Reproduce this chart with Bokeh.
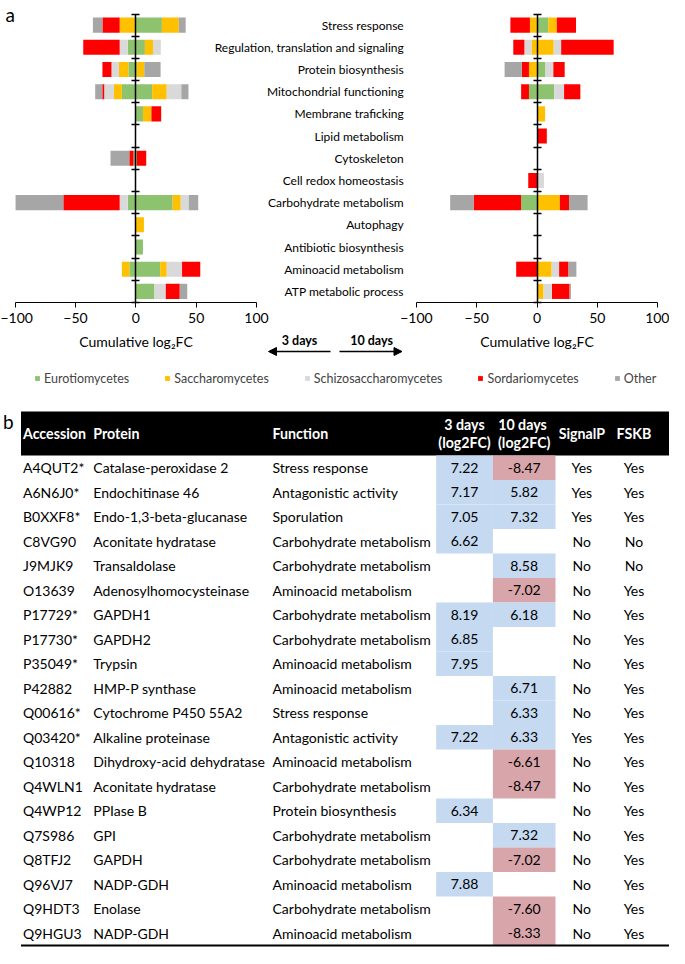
from bokeh.plotting import figure
from bokeh.models import (Range1d, LinearAxis, FixedTicker, ColumnDataSource, Legend,
                          LegendItem, Arrow, NormalHead)
from bokeh.core.properties import value
from bokeh.embed import file_html
from bokeh.resources import INLINE

FONT = "Lato"

# ---------------- data: panel a ----------------
categories = ["Stress response", "Regulation, translation and signaling", "Protein biosynthesis",
              "Mitochondrial functioning", "Membrane traficking", "Lipid metabolism", "Cytoskeleton",
              "Cell redox homeostasis", "Carbohydrate metabolism", "Autophagy",
              "Antibiotic biosynthesis", "Aminoacid metabolism", "ATP metabolic process"]
classes = ["Eurotiomycetes", "Saccharomycetes", "Schizosaccharomycetes", "Sordariomycetes", "Other"]
class_keys = ["euro", "sacch", "schizo", "sordario", "other"]
class_colors = ["#8DC26F", "#FFC000", "#D9D9D9", "#FF0000", "#A6A6A6"]

# 3 days, positive cumulative log2FC per class
up3_euro     = [21.6, 7.5, 0.8, 13.5, 5.9, 0, 0.8, 0, 30.5, 0, 5.9, 20.2, 15.4]
up3_sacch    = [14.0, 6.7, 6.2, 12.1, 7.0, 0, 0, 0, 6.7, 6.7, 0, 5.4, 0]
up3_schizo   = [0, 6.5, 0, 12.1, 0, 0, 0, 0, 6.7, 0, 0, 12.7, 9.4]
up3_sordario = [0, 0, 0, 0, 8.1, 0, 7.8, 0, 0, 0, 0, 15.1, 11.6]
up3_other    = [5.7, 0, 13.5, 5.9, 0, 0, 0, 0, 7.8, 0, 0, 0, 6.2]
# 3 days, negative cumulative log2FC per class
dn3_euro     = [0, -6.7, -6.2, -11.6, 0, 0, -1.9, 0, -6.7, 0, 0, -5.4, 0]
dn3_sacch    = [-13.4, 0, -7.8, -6.5, 0, 0, 0, 0, 0, 0, 0, -6.2, 0]
dn3_schizo   = [0, -6.7, -6.2, -8.1, 0, 0, 0, 0, -6.7, 0, 0, 0, 0]
dn3_sordario = [-14.3, -30.2, -7.5, -1.6, 0, 0, -3.5, 0, -46.7, 0, 0, 0, 0]
dn3_other    = [-7.9, 0, 0, -5.9, 0, 0, -15.6, 0, -39.6, 0, 0, 0, 0]
# 10 days, positive
up10_euro     = [9.4, 0, 7.0, 14.3, 0, 0, 0, 0, 0, 0, 0, 0, 0]
up10_sacch    = [7.0, 13.8, 0, 0, 6.7, 0, 0, 0, 18.9, 0, 0, 12.1, 5.4]
up10_schizo   = [0, 6.2, 6.5, 8.1, 0, 0, 0, 5.7, 0, 0, 0, 6.2, 7.0]
up10_sordario = [15.9, 43.5, 9.4, 13.5, 0, 8.1, 0, 0, 7.6, 0, 0, 7.8, 14.6]
up10_other    = [0, 0, 0, 0, 0, 0, 0, 0, 15.4, 0, 0, 6.5, 1.1]
# 10 days, negative
dn10_euro     = [0, 0, 0, -6.7, 0, 0, 0, 0, -13.2, 0, 0, 0, 0]
dn10_sacch    = [-5.9, -4.6, -6.7, 0, 0, 0, 0, 0, 0, 0, 0, 0, 0]
dn10_schizo   = [0, -5.9, 0, 0, 0, 0, 0, 0, 0, 0, 0, 0, 0]
dn10_sordario = [-16.2, -9.2, -5.9, -6.5, 0, 0, 0, -7.3, -39.4, 0, 0, -17.3, 0]
dn10_other    = [0, 0, -14.3, 0, 0, 0, 0, 0, -19.4, 0, 0, 0, 0]

x_ticks = [-100, -50, 0, 50, 100]

# ---------------- data: panel b ----------------
tab_header = ["Accession", "Protein", "Function", "3 days\n(log2FC)", "10  days\n(log2FC)", "SignalP", "FSKB"]
accession = ["A4QUT2*", "A6N6J0*", "B0XXF8*", "C8VG90", "J9MJK9", "O13639", "P17729*", "P17730*",
             "P35049*", "P42882", "Q00616*", "Q03420*", "Q10318", "Q4WLN1", "Q4WP12", "Q7S986",
             "Q8TFJ2", "Q96VJ7", "Q9HDT3", "Q9HGU3"]
protein = ["Catalase-peroxidase 2", "Endochitinase 46", "Endo-1,3-beta-glucanase", "Aconitate hydratase",
           "Transaldolase", "Adenosylhomocysteinase", "GAPDH1", "GAPDH2", "Trypsin", "HMP-P synthase",
           "Cytochrome P450 55A2", "Alkaline proteinase", "Dihydroxy-acid dehydratase",
           "Aconitate hydratase", "PPIase B", "GPI", "GAPDH", "NADP-GDH", "Enolase", "NADP-GDH"]
function = ["Stress response", "Antagonistic activity", "Sporulation", "Carbohydrate metabolism",
            "Carbohydrate metabolism", "Aminoacid metabolism", "Carbohydrate metabolism",
            "Carbohydrate metabolism", "Aminoacid metabolism", "Aminoacid metabolism", "Stress response",
            "Antagonistic activity", "Aminoacid metabolism", "Carbohydrate metabolism",
            "Protein biosynthesis", "Carbohydrate metabolism", "Carbohydrate metabolism",
            "Aminoacid metabolism", "Carbohydrate metabolism", "Aminoacid metabolism"]
fc_3d = [7.22, 7.17, 7.05, 6.62, None, None, 8.19, 6.85, 7.95, None, None, 7.22, None, None, 6.34,
         None, None, 7.88, None, None]
fc_10d = [-8.47, 5.82, 7.32, None, 8.58, -7.02, 6.18, None, None, 6.71, 6.33, 6.33, -6.61, -8.47,
          None, 7.32, -7.02, None, -7.60, -8.33]
signalp = ["Yes", "Yes", "Yes", "No", "No", "No", "No", "No", "No", "No", "No", "Yes", "No", "No",
           "No", "No", "No", "No", "No", "No"]
fskb = ["Yes", "Yes", "Yes", "No", "No", "Yes", "Yes", "Yes", "Yes", "Yes", "Yes", "Yes", "Yes", "Yes",
        "Yes", "Yes", "Yes", "Yes", "Yes", "Yes"]

# ---------------- layout constants (pixels) ----------------
W, H = 669, 948
ROW_TOP, AXIS_Y = 13.5, 302.0
row_h = (AXIS_Y - ROW_TOP) / len(categories)
L_PX = (14.7, 256.0)
R_PX = (415.9, 657.2)
TAB_Y0, TAB_ROW = 467.3, 24.5
COL_X = [22.5, 92.8, 272.0, 464.0, 523.7, 581.3, 633.5]
CELL_X = [(435.7, 492.4), (492.4, 555.0)]
POS_COL, NEG_COL = "#C5D9F1", "#D8A5AA"
BODY_SIZE = "14px"


def chart_range(px):
    s = (px[1] - px[0]) / 200.0
    start = -100 - px[0] / s
    return Range1d(start, start + W / s)


p = figure(width=W, height=H, x_range=Range1d(0, W), y_range=Range1d(H, 0),
           x_axis_type=None, y_axis_type=None, toolbar_location=None,
           output_backend="svg", min_border=0, outline_line_color=None,
           background_fill_color="white", border_fill_color="white")
p.extra_x_ranges = {"L": chart_range(L_PX), "R": chart_range(R_PX)}
p.extra_y_ranges = {"rows": Range1d((H - ROW_TOP) / row_h, -ROW_TOP / row_h),
                    "tab": Range1d((H - TAB_Y0) / TAB_ROW, -TAB_Y0 / TAB_ROW)}

cat_y = [i + 0.5 for i in range(len(categories))]


def stack(rng, series):
    d = dict(y=cat_y)
    for k, v in zip(class_keys, series):
        d[k] = v
    return p.hbar_stack(class_keys, y="y", height=0.68, fill_color=class_colors, line_color=None,
                        source=ColumnDataSource(d), x_range_name=rng, y_range_name="rows")


legend_renderers = stack("L", [up3_euro, up3_sacch, up3_schizo, up3_sordario, up3_other])
stack("L", [dn3_euro, dn3_sacch, dn3_schizo, dn3_sordario, dn3_other])
stack("R", [up10_euro, up10_sacch, up10_schizo, up10_sordario, up10_other])
stack("R", [dn10_euro, dn10_sacch, dn10_schizo, dn10_sordario, dn10_other])

for rng in ["L", "R"]:
    yax = LinearAxis(x_range_name=rng, y_range_name="rows", fixed_location=0,
                     bounds=(0, len(categories)),
                     ticker=FixedTicker(ticks=list(range(len(categories) + 1)), minor_ticks=[]),
                     major_tick_in=4, major_tick_out=4, minor_tick_line_color=None,
                     axis_line_width=1.5, major_tick_line_width=1.5,
                     axis_line_color="black", major_tick_line_color="black",
                     major_label_overrides={i: "" for i in range(len(categories) + 1)},
                     major_label_text_font_size="1px")
    p.add_layout(yax, "left")
    xax = LinearAxis(x_range_name=rng, fixed_location=AXIS_Y, bounds=(-100, 100),
                     ticker=FixedTicker(ticks=x_ticks, minor_ticks=[]),
                     major_tick_in=0, major_tick_out=5, minor_tick_line_color=None,
                     axis_line_color="black", major_tick_line_color="black",
                     major_label_text_font=FONT, major_label_text_font_size="14px",
                     major_label_text_color="black", major_label_standoff=5,
                     axis_label="Cumulative log\u2082FC", axis_label_text_font=FONT,
                     axis_label_text_font_style="normal", axis_label_text_font_size="14px",
                     axis_label_text_color="black", axis_label_standoff=7)
    p.add_layout(xax, "below")

# category labels
p.text(x=403.2, y="y", text="cat", source=ColumnDataSource(dict(y=cat_y, cat=categories)),
       y_range_name="rows", text_align="right", text_baseline="middle",
       text_font=value(FONT), text_font_size="12px", text_color="black")

# panel letters
p.text(x=[9.8, 7.8], y=[14, 421], text=["a", "b"], text_align="center", text_baseline="alphabetic",
       text_font=value(FONT), text_font_size="19px", text_color="black")

# time arrows
p.add_layout(Arrow(end=NormalHead(size=8, fill_color="black", line_color="black"),
                   x_start=330, y_start=351, x_end=268, y_end=351, line_width=1.5))
p.add_layout(Arrow(end=NormalHead(size=8, fill_color="black", line_color="black"),
                   x_start=339, y_start=351, x_end=401.5, y_end=351, line_width=1.5))
p.text(x=[299, 371], y=[340, 340], text=["3 days", "10 days"], text_align="center",
       text_baseline="middle", text_font=value(FONT), text_font_style="bold",
       text_font_size="12.5px", text_color="black")

# legend
legend = Legend(items=[LegendItem(label=c, renderers=[r]) for c, r in zip(classes, legend_renderers)],
                orientation="horizontal", location=(34, H - 388), glyph_width=6, glyph_height=6,
                label_text_font=FONT, label_text_font_size="12.5px", label_standoff=4,
                spacing=35, padding=0, margin=0, border_line_color=None,
                background_fill_alpha=0, label_height=20)
p.add_layout(legend)

# ---------------- table ----------------
HEAD_TOP, HEAD_BOT = 411, 455
p.quad(left=20.5, right=W, top=HEAD_TOP, bottom=HEAD_BOT, fill_color="black", line_color=None)
head_mid = (HEAD_TOP + HEAD_BOT) / 2
head_align = ["left", "left", "left", "center", "center", "center", "center"]
for x, t, a in zip(COL_X, tab_header, head_align):
    p.text(x=x, y=head_mid, text=[t], text_align=a, text_baseline="middle", text_font=value(FONT),
           text_font_style="bold", text_font_size="14.2px", text_color="white", text_line_height=1.05)

rows = list(range(len(accession)))
for (x0, x1), vals in zip(CELL_X, [fc_3d, fc_10d]):
    rr = [i for i, v in zip(rows, vals) if v is not None]
    vv = [v for v in vals if v is not None]
    src = ColumnDataSource(dict(row=rr, lab=["%.2f" % v for v in vv],
                                col=[POS_COL if v > 0 else NEG_COL for v in vv]))
    p.rect(x=(x0 + x1) / 2, y="row", width=x1 - x0, height=1, fill_color="col", line_color=None,
           source=src, y_range_name="tab")
    p.text(x=(x0 + x1) / 2, y="row", text="lab", source=src, y_range_name="tab", text_align="center",
           text_baseline="middle", text_font=value(FONT), text_font_size=BODY_SIZE, text_color="black")

tsrc = ColumnDataSource(dict(row=rows, acc=accession, prot=protein, fun=function, sig=signalp, fs=fskb))
for x, col, a in zip([COL_X[0], COL_X[1], COL_X[2], COL_X[5], COL_X[6]],
                     ["acc", "prot", "fun", "sig", "fs"],
                     ["left", "left", "left", "center", "center"]):
    p.text(x=x, y="row", text=col, source=tsrc, y_range_name="tab", text_align=a,
           text_baseline="middle", text_font=value(FONT), text_font_size=BODY_SIZE, text_color="black")

p.segment(x0=20.5, x1=W, y0=len(accession) - 0.5, y1=len(accession) - 0.5, y_range_name="tab",
          line_color="black", line_width=2)

open("out.html", "w").write(file_html(p, INLINE))
